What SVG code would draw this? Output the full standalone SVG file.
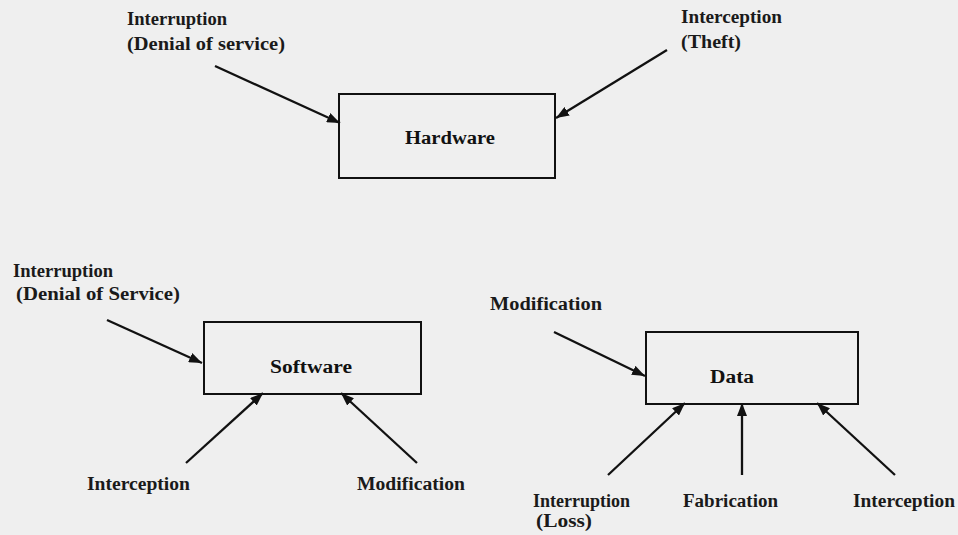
<svg xmlns="http://www.w3.org/2000/svg" width="958" height="535" viewBox="0 0 958 535">
<defs>
<style>
.lbl{font-family:"Liberation Serif","Times New Roman",serif;font-size:18px;font-weight:bold;fill:#1a1a1a}
.node-t{font-family:"Liberation Serif","Times New Roman",serif;font-size:18px;font-weight:bold;fill:#111;text-anchor:middle}
.box{fill:none;stroke:#111;stroke-width:2}
.arr{stroke:#111;stroke-width:2.3;fill:none;marker-end:url(#ah)}
</style>
<marker id="ah" markerUnits="userSpaceOnUse" markerWidth="14" markerHeight="10" refX="13" refY="5" orient="auto">
<path d="M0,0 L13,5 L0,10 z" fill="#111"/>
</marker>
</defs>
<rect width="958" height="535" fill="#efefef"/>
<g id="hardware">
<rect class="box" x="339" y="94" width="216" height="84"/>
<text class="node-t" x="450" y="144" textLength="90" lengthAdjust="spacingAndGlyphs">Hardware</text>
</g>
<g id="software">
<rect class="box" x="204" y="322" width="217" height="72"/>
<text class="node-t" x="311" y="373" textLength="82" lengthAdjust="spacingAndGlyphs">Software</text>
</g>
<g id="data">
<rect class="box" x="646" y="332" width="212" height="72"/>
<text class="node-t" x="732" y="383" textLength="44" lengthAdjust="spacingAndGlyphs">Data</text>
</g>
<g id="labels">
<text class="lbl" x="127" y="25" textLength="100" lengthAdjust="spacingAndGlyphs">Interruption</text>
<text class="lbl" x="127" y="50" textLength="158" lengthAdjust="spacingAndGlyphs">(Denial of service)</text>
<text class="lbl" x="681" y="23" textLength="101" lengthAdjust="spacingAndGlyphs">Interception</text>
<text class="lbl" x="681" y="48" textLength="60" lengthAdjust="spacingAndGlyphs">(Theft)</text>
<text class="lbl" x="13" y="277" textLength="100" lengthAdjust="spacingAndGlyphs">Interruption</text>
<text class="lbl" x="16" y="300" textLength="164" lengthAdjust="spacingAndGlyphs">(Denial of Service)</text>
<text class="lbl" x="87" y="490" textLength="103" lengthAdjust="spacingAndGlyphs">Interception</text>
<text class="lbl" x="357" y="490" textLength="108" lengthAdjust="spacingAndGlyphs">Modification</text>
<text class="lbl" x="490" y="310" textLength="112" lengthAdjust="spacingAndGlyphs">Modification</text>
<text class="lbl" x="533" y="507" textLength="97" lengthAdjust="spacingAndGlyphs">Interruption</text>
<text class="lbl" x="536" y="527" textLength="56" lengthAdjust="spacingAndGlyphs">(Loss)</text>
<text class="lbl" x="683" y="507" textLength="95" lengthAdjust="spacingAndGlyphs">Fabrication</text>
<text class="lbl" x="853" y="507" textLength="102" lengthAdjust="spacingAndGlyphs">Interception</text>
</g>
<g id="connectors">
<line class="arr" x1="215" y1="66" x2="340" y2="123"/>
<line class="arr" x1="667" y1="50" x2="556" y2="118"/>
<line class="arr" x1="107" y1="320" x2="202" y2="363"/>
<line class="arr" x1="186" y1="463" x2="263" y2="393"/>
<line class="arr" x1="417" y1="463" x2="341" y2="393"/>
<line class="arr" x1="554" y1="332" x2="645" y2="376"/>
<line class="arr" x1="608" y1="475" x2="685" y2="403"/>
<line class="arr" x1="742" y1="475" x2="742" y2="403"/>
<line class="arr" x1="895" y1="475" x2="817" y2="403"/>
</g>
</svg>
